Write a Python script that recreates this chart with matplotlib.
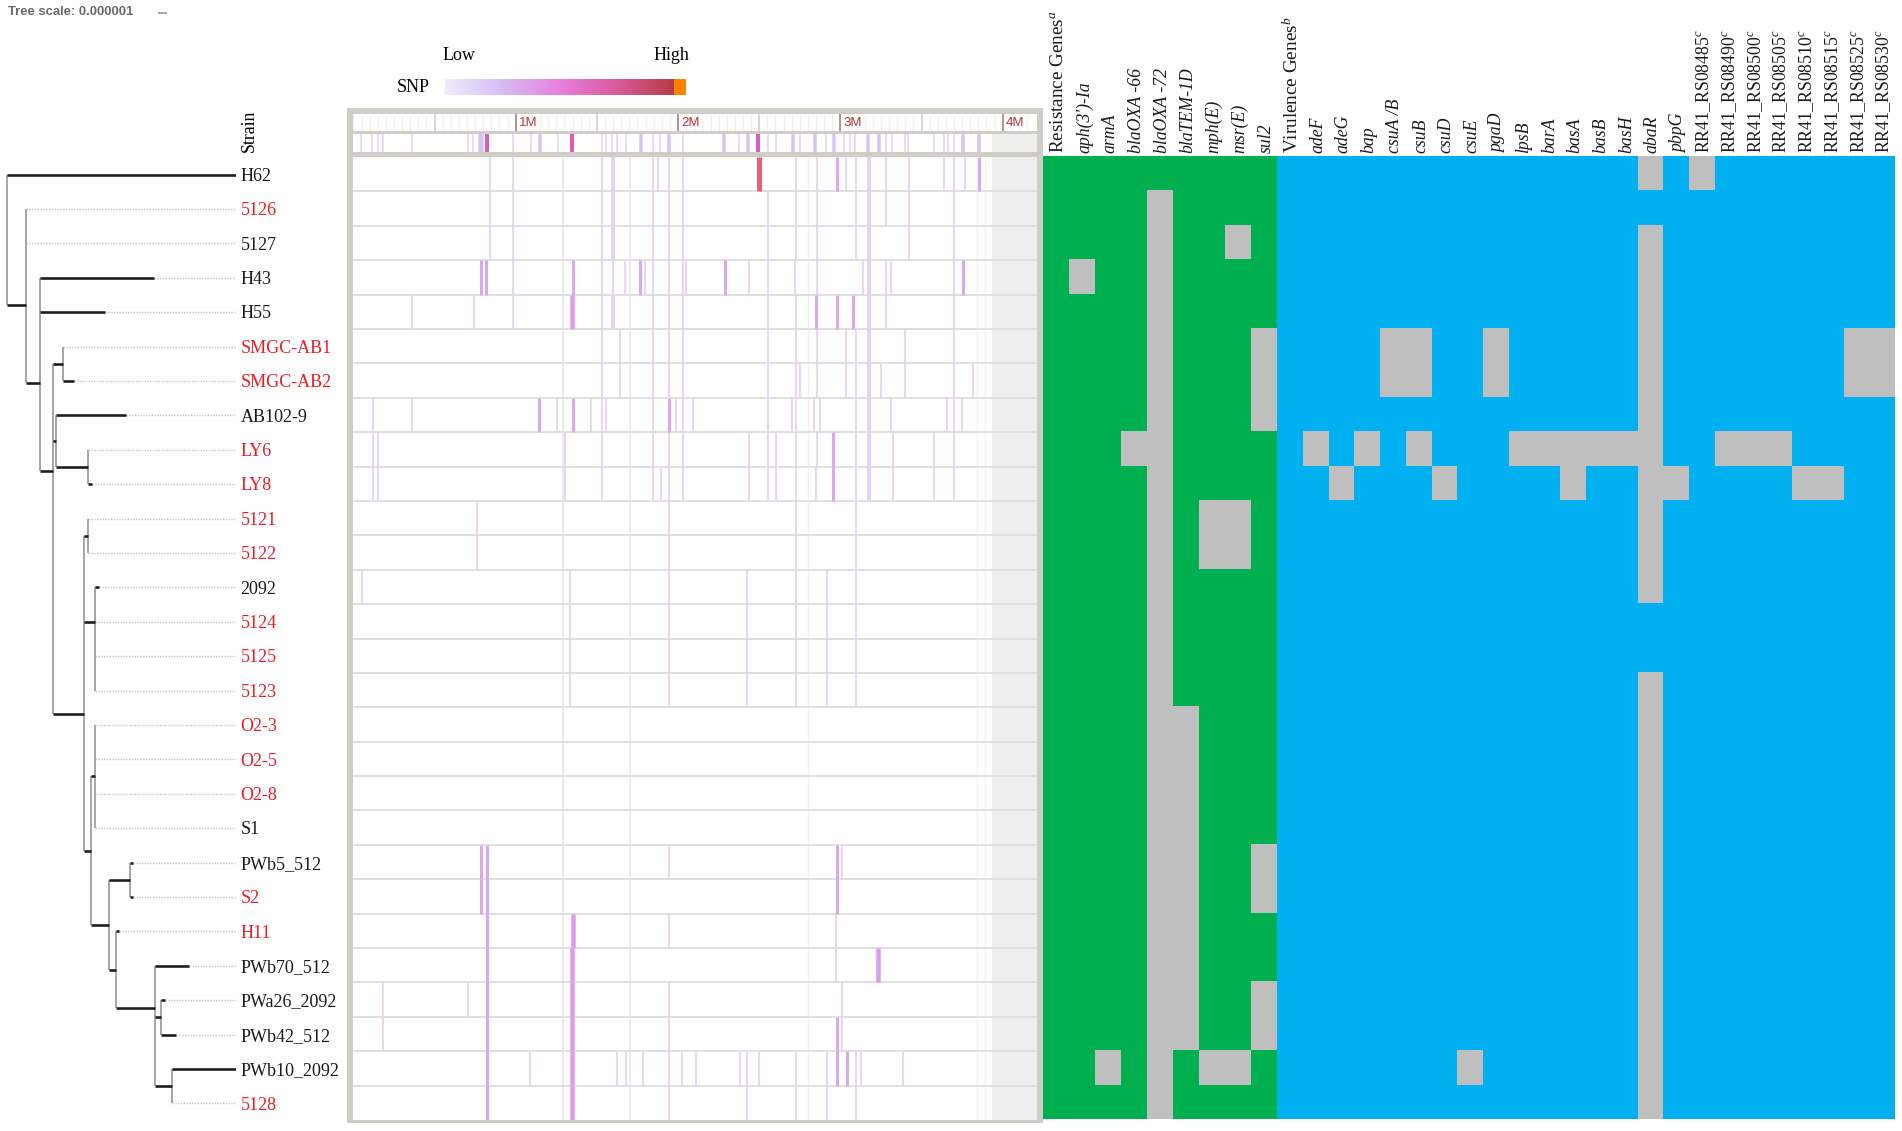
import numpy as np
import matplotlib
matplotlib.use('Agg')
import matplotlib.pyplot as plt
from matplotlib.colors import ListedColormap, LinearSegmentedColormap

plt.rcParams['font.family'] = ['Liberation Serif', 'DejaVu Serif']
plt.rcParams['mathtext.fontset'] = 'custom'
plt.rcParams['mathtext.rm'] = 'Liberation Serif'
plt.rcParams['mathtext.it'] = 'Liberation Serif:italic'

W, H = 1902, 1131

strains = ['H62', '5126', '5127', 'H43', 'H55', 'SMGC-AB1', 'SMGC-AB2', 'AB102-9', 'LY6', 'LY8',
           '5121', '5122', '2092', '5124', '5125', '5123', 'O2-3', 'O2-5', 'O2-8', 'S1',
           'PWb5_512', 'S2', 'H11', 'PWb70_512', 'PWa26_2092', 'PWb42_512', 'PWb10_2092', '5128']
red_strains = ['5126', 'SMGC-AB1', 'SMGC-AB2', 'LY6', 'LY8', '5121', '5122', '5124', '5125', '5123',
               'O2-3', 'O2-5', 'O2-8', 'S2', 'H11', '5128']

# tree, x is branch distance
tip_start = [7.3, 25.7, 25.7, 39.7, 39.7, 63.3, 63.3, 55.7, 88, 88, 88, 88, 95, 95,
             95, 95, 95, 95, 95, 95, 130, 130, 115.7, 154.7, 161.3, 161.3, 172, 172]
tip_thick = [236, 25.7, 25.7, 153.7, 105, 63.3, 74, 125.7, 88, 91.7, 88, 88, 98.7, 95,
             95, 95, 95, 95, 95, 95, 133.3, 133.3, 119, 189.3, 165, 175.7, 236, 172]
inner_x0 = [7.3, 25.7, 39.7, 53.3, 53.3, 55.7, 53.3, 84.3, 84.3, 84.3, 91.3, 91.3, 109, 109, 115.7, 154.7, 154.7]
inner_x1 = [25.7, 39.7, 53.3, 63.3, 55.7, 88, 84.3, 88, 95, 91.3, 95, 109, 130, 115.7, 154.7, 161.3, 172]
inner_row = [3.78, 6.06, 8.62, 5.5, 7.75, 8.49, 15.69, 10.5, 13, 19.65, 17.49, 21.81, 20.5, 23.12, 24.23, 24.5, 26.49]
vert_x = [7.3, 25.7, 39.7, 53.3, 55.7, 63.3, 88, 84.3, 88, 95, 91.3, 95, 109, 130, 115.7, 154.7, 161.3, 172]
vert_r0 = [0, 1, 3, 5.5, 7, 5, 8, 10.5, 10, 12, 17.49, 16, 20.5, 20, 22, 23, 24, 26]
vert_r1 = [3.78, 6.06, 8.62, 15.69, 8.49, 6, 9, 19.65, 11, 15, 21.81, 19, 23.12, 21, 24.23, 26.49, 25, 27]

# SNP positions in Mb for each strain row
snp_light = [
    [0.842, 0.984, 1.530, 1.847, 1.878, 1.946, 2.031, 2.724, 2.854, 3.035, 3.097, 3.281, 3.422, 3.640, 3.700, 3.765],
    [0.842, 0.984, 1.530, 1.847, 1.946, 2.031, 2.557, 2.724, 2.854, 3.097, 3.281, 3.422, 3.700],
    [0.842, 0.984, 1.530, 1.847, 1.946, 2.031, 2.557, 2.724, 2.854, 3.097, 3.422, 3.700],
    [0.984, 1.530, 1.598, 1.671, 1.799, 1.847, 1.946, 2.031, 2.048, 2.435, 2.557, 2.718, 2.854, 3.142, 3.281, 3.312, 3.700],
    [0.362, 0.743, 0.984, 1.530, 1.847, 1.946, 2.031, 2.557, 2.724, 3.281, 3.700],
    [1.530, 1.640, 1.847, 1.946, 2.031, 2.557, 2.724, 2.854, 3.035, 3.097, 3.397, 3.700],
    [1.530, 1.640, 1.847, 1.946, 2.031, 2.557, 2.724, 2.752, 2.854, 3.035, 3.097, 3.250, 3.397, 3.700, 3.815],
    [0.121, 0.362, 1.253, 1.465, 1.530, 1.558, 1.847, 1.988, 2.031, 2.093, 2.557, 2.704, 2.724, 2.840, 2.874, 3.097, 3.312, 3.657, 3.700, 3.748],
    [0.121, 0.152, 1.304, 1.530, 1.847, 1.946, 2.031, 2.435, 2.557, 2.605, 2.724, 2.854, 3.097, 3.326, 3.575, 3.700],
    [0.121, 0.152, 1.304, 1.530, 1.847, 1.898, 1.946, 2.031, 2.435, 2.557, 2.605, 2.724, 2.848, 3.097, 3.326, 3.575, 3.700],
    [0.763, 1.946, 2.724, 3.097],
    [0.763, 1.946, 2.724, 3.097],
    [0.053, 1.335, 1.946, 2.427, 2.724, 2.916, 3.097],
    [1.335, 1.946, 2.427, 2.724, 2.916, 3.097],
    [1.335, 1.946, 2.427, 2.724, 2.916, 3.097],
    [1.335, 1.946, 2.427, 2.724, 2.916, 3.097],
    [], [], [], [],
    [1.946, 3.009],
    [],
    [1.946, 2.973],
    [2.973],
    [0.183, 0.704, 1.946, 3.009],
    [0.183, 1.946, 3.009],
    [1.091, 1.626, 1.680, 1.782, 1.946, 2.022, 2.110, 2.381, 2.427, 2.497, 2.724, 2.916, 3.097, 3.128, 3.388],
    [1.946, 2.427, 2.724, 2.916, 3.097],
]
snp_dark = [
    [2.978, 3.855], [], [], [0.786, 0.817, 1.354, 1.767, 2.288, 3.753], [2.848, 2.978, 3.080], [], [],
    [1.145, 1.354, 1.946], [2.956], [2.956], [], [], [], [], [], [], [], [], [], [],
    [0.786, 0.823, 2.978], [0.786, 0.823, 2.978], [0.820, 1.354], [0.820], [0.820], [0.820, 2.978],
    [0.820, 2.978, 3.040], [0.820],
]
band_rows = [0, 1, 2, 3, 4, 5, 6, 7, 8, 9, 0, 1, 2, 4]
band_pos = [3.179] * 10 + [1.598] * 4
wide_rows = [4, 23, 23, 24, 25, 26, 27, 22]
wide_pos = [1.349, 1.349, 3.233, 1.349, 1.349, 1.349, 1.349, 1.354]
hot_row = 0
hot_pos = 2.497
faint_lines = [1.289, 1.705, 2.803, 3.844, 3.892]
unmapped_start = 3.934
genome_end = 4.21

overview_light = [0.047, 0.117, 0.150, 0.184, 0.359, 0.704, 0.737, 0.983, 1.092, 1.259, 1.530, 1.558, 1.591,
                  1.622, 1.677, 1.848, 1.889, 2.033, 2.376, 2.557, 2.604, 2.752, 2.910, 3.025, 3.060, 3.091,
                  3.280, 3.317, 3.395, 3.419, 3.576, 3.641, 3.666, 3.697]
overview_mid = [0.780, 0.794, 1.148, 1.772, 1.945, 2.286, 2.429, 2.711, 2.844, 2.963, 3.173, 3.235, 3.754, 3.857]
overview_hot = [0.821, 1.349, 2.495]

ruler_labels = ['1M', '2M', '3M', '4M']
ruler_pos = [1, 2, 3, 4]
ruler_half = [0.5, 1.5, 2.5, 3.5]

resistance_genes = ['Resistance Genes$^{a}$', "aph(3')-Ia", 'armA', 'blaOXA -66', 'blaOXA -72', 'blaTEM-1D',
                    'mph(E)', 'msr(E)', 'sul2']
virulence_genes = ['Virulence Genes$^{b}$', 'adeF', 'adeG', 'bap', 'csuA /B', 'csuB', 'csuD', 'csuE', 'pgaD', 'lpsB',
                   'barA', 'basA', 'basB', 'basH', 'abaR', 'pbpG']
rr41_genes = ['RR41_RS08485$^{c}$', 'RR41_RS08490$^{c}$', 'RR41_RS08500$^{c}$', 'RR41_RS08505$^{c}$',
              'RR41_RS08510$^{c}$', 'RR41_RS08515$^{c}$', 'RR41_RS08525$^{c}$', 'RR41_RS08530$^{c}$']
section_heads = ['Resistance Genes$^{a}$', 'Virulence Genes$^{b}$']

# gene absent in these rows, by column index
absent = {
    1: [3], 2: [26], 3: [8],
    4: list(range(1, 28)),
    5: list(range(16, 26)),
    6: [10, 11, 26], 7: [2, 10, 11, 26],
    8: [5, 6, 7, 20, 21, 24, 25],
    10: [8], 11: [9], 12: [8], 13: [5, 6], 14: [5, 6, 8], 15: [9], 16: [26], 17: [5, 6],
    18: [8], 19: [8], 20: [8, 9], 21: [8], 22: [8],
    23: [0] + list(range(2, 13)) + list(range(15, 28)),
    24: [9], 25: [0], 26: [8], 27: [8], 28: [8], 29: [9], 30: [9], 31: [5, 6], 32: [5, 6],
}


def panel(x0, y0, x1, y1):
    # axes placed with reference pixel box
    ax = fig.add_axes([x0 / W, 1 - y1 / H, (x1 - x0) / W, (y1 - y0) / H])
    ax.set_xticks([])
    ax.set_yticks([])
    for s in ax.spines.values():
        s.set_visible(False)
    return ax


fig = plt.figure(figsize=(W / 100, H / 100), dpi=100, facecolor='white')
px = 0.72

# header
fig.text(8 / W, 1 - 12 / H, 'Tree scale: 0.000001', family=['Liberation Sans'], fontweight='bold', fontsize=9.4,
         color='#6a6a6a', va='center', ha='left')
ax = panel(158, 8, 167, 18)
ax.axis('off')
ax.set_xlim(0, 1)
ax.set_ylim(0, 1)
ax.plot([0, 1], [0.5, 0.5], color='#999999', lw=1.2)

# SNP colour bar
snp_cmap = LinearSegmentedColormap.from_list('snp', ['#efecfb', '#d6bdf3', '#e87fe0', '#d85c9c', '#b83a46'])
ax = panel(445, 79, 674, 95)
ax.imshow(np.linspace(0, 1, 256).reshape(1, -1), cmap=snp_cmap, aspect='auto')
ax = panel(674, 79, 686, 95)
ax.set_facecolor('#ff8000')
fig.text(459 / W, 1 - 55 / H, 'Low', fontsize=13, ha='center', va='center')
fig.text(671 / W, 1 - 55 / H, 'High', fontsize=13, ha='center', va='center')
fig.text(413 / W, 1 - 88 / H, 'SNP', fontsize=13, ha='center', va='center')
fig.text(249 / W, 1 - 152 / H, 'Strain', fontsize=12.8, rotation=90, ha='center', va='bottom')

# tree
ax = panel(0, 157.5, 236, 1120.5)
ax.axis('off')
ax.set_xlim(0, 236)
ax.set_ylim(27.5, -0.5)
rows = np.arange(len(strains))
ax.hlines(rows, tip_thick, 236, color='#c4c4c4', lw=1.4 * px, linestyles=(0, (1, 1)))
ax.vlines(vert_x, vert_r0, vert_r1, color='#a8a8a8', lw=2 * px)
ax.hlines(rows, tip_start, tip_thick, color='#1c1c1c', lw=2.6 * px)
ax.hlines(inner_row, inner_x0, inner_x1, color='#1c1c1c', lw=2.6 * px)
for i, name in enumerate(strains):
    col = '#ee1c25' if name in red_strains else '#1a1a1a'
    ax.text(240.5, i + 0.05, name, color=col, fontsize=13, ha='left', va='center')

# genome frame
ax = panel(347, 108, 1042.5, 1123)
ax.set_facecolor('#cfcdc5')

# ruler
ax = panel(353.4, 114, 1036.8, 131)
ax.set_xlim(0, genome_end)
ax.set_ylim(0, 1)
ax.vlines(np.arange(0, 4.2, 0.05), 0, 1, color='#eeeeee', lw=1.2 * px)
ax.vlines(ruler_half, 0, 1, color='#d0d0d0', lw=1.6 * px)
ax.vlines(ruler_pos, 0, 1, color='#a08080', lw=1.6 * px)
for p, lab in zip(ruler_pos, ruler_labels):
    ax.text(p + 0.018, 0.47, lab, color='#b03a3a', family=['Liberation Sans'], fontsize=9.5, ha='left', va='center')

# overview track
ax = panel(353.4, 134, 1036.8, 152)
ax.set_xlim(0, genome_end)
ax.set_ylim(0, 1)
ax.axvspan(unmapped_start, genome_end, color='#eeeeee', lw=0)
ax.vlines(overview_light, 0, 1, color='#e6dcfa', lw=2 * px)
ax.vlines(overview_mid, 0, 1, color='#d6c4f6', lw=3.5 * px)
ax.vlines(overview_hot, 0, 1, color='#dc5cbc', lw=4 * px)

# SNP rows
ax = panel(353.4, 157, 1036.8, 1120)
ax.set_xlim(0, genome_end)
ax.set_ylim(28, 0)
ax.axvspan(unmapped_start, genome_end, color='#eeeeee', lw=0, zorder=0)
ax.vlines(faint_lines[:2], 0, 28, color='#ebebeb', lw=2 * px, zorder=1)
ax.vlines(faint_lines[2:], 0, 28, color='#f1f1f1', lw=1.4 * px, zorder=1)
ax.hlines(np.arange(1, 28), 0, genome_end, color='#e0e0e0', lw=2 * px, zorder=2)
for i in range(len(strains)):
    ax.vlines(snp_light[i], i, i + 1, color='#e6d2f9', lw=1.8 * px, zorder=3)
    ax.vlines(snp_dark[i], i, i + 1, color='#d9a8ee', lw=3 * px, zorder=4)
for r, p in zip(band_rows, band_pos):
    ax.vlines(p, r, r + 1, color='#e6d2f9', lw=4 * px, zorder=3)
for r, p in zip(wide_rows, wide_pos):
    ax.vlines(p, r, r + 1, color='#dd9dec', lw=4.5 * px, zorder=4)
ax.vlines(hot_pos, hot_row, hot_row + 1, color='#ec5f78', lw=5 * px, zorder=5)

# gene presence heatmap, resistance block and virulence block
genes = resistance_genes + virulence_genes + rr41_genes
n_res = len(resistance_genes)
status = np.ones((len(strains), len(genes)), dtype=int)
status[:, :n_res] = 0
for c, hit in absent.items():
    status[hit, c] = 2
cell_cmap = ListedColormap(['#00b050', '#00b0f0', '#bfbfbf'])
blocks = [(1043.3, 1277, 0, n_res), (1277, 1895, n_res, len(genes))]
for x0, x1, c0, c1 in blocks:
    ax = panel(x0, 156, x1, 1119)
    ax.pcolormesh(status[:, c0:c1], cmap=cell_cmap, vmin=0, vmax=2)
    ax.set_xlim(0, c1 - c0)
    ax.set_ylim(len(strains), 0)
    for c, g in enumerate(genes[c0:c1]):
        head = g in section_heads
        ax.text(c + 0.58, -0.08, g, rotation=90, ha='center', va='bottom', fontsize=13.8 if head else 12.8,
                fontstyle='normal' if head or g in rr41_genes else 'italic', color='#1a1a1a')

fig.savefig('out.png', dpi=100)
